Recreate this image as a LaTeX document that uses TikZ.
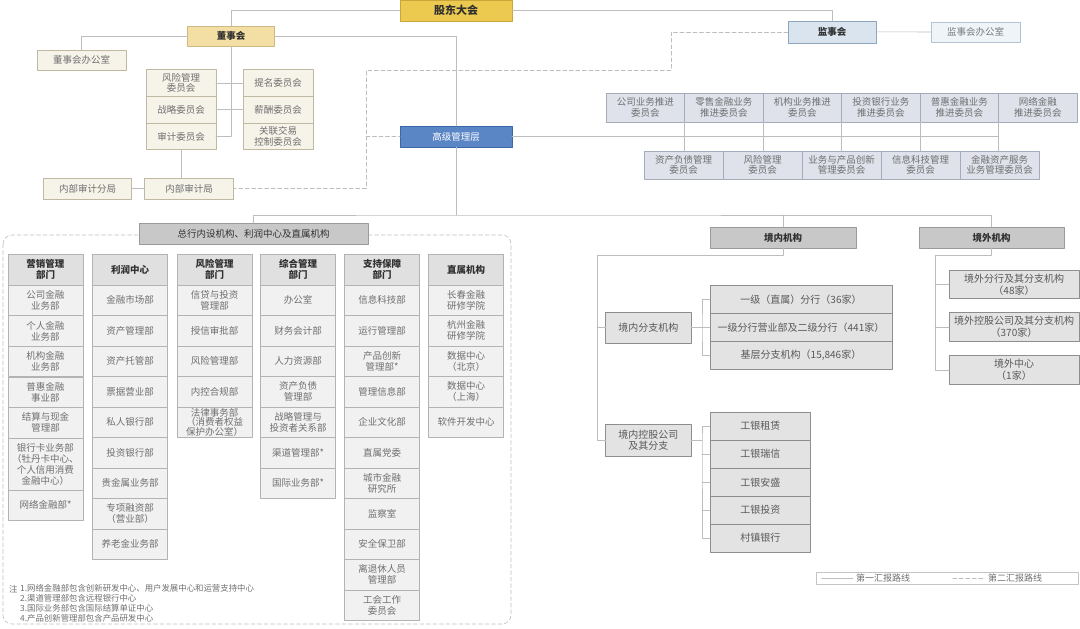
\documentclass[tikz,border=0pt]{standalone}
\usepackage{fontspec}
\setmainfont{Noto Sans CJK SC}
\definecolor{LineGray}{HTML}{BDBDBD}
\definecolor{TextGray}{HTML}{6F6F6F}
\definecolor{HeadText}{HTML}{303030}
\definecolor{GoldFill}{HTML}{ECC94F}
\definecolor{GoldEdge}{HTML}{C9A53A}
\definecolor{BoardFill}{HTML}{F3DFA3}
\definecolor{BoardEdge}{HTML}{CDB982}
\definecolor{CreamFill}{HTML}{F6F3E9}
\definecolor{CreamEdge}{HTML}{BFB8A3}
\definecolor{SupFill}{HTML}{D9E4EF}
\definecolor{SupEdge}{HTML}{8EA5BD}
\definecolor{SupOfficeFill}{HTML}{EFF4F9}
\definecolor{SupOfficeEdge}{HTML}{B3C3D4}
\definecolor{MgmtBlue}{HTML}{5A86C6}
\definecolor{MgmtEdge}{HTML}{3C67A6}
\definecolor{CmtFill}{HTML}{DFE2EB}
\definecolor{CmtEdge}{HTML}{A4ABBB}
\definecolor{HeadGray}{HTML}{C8C8C8}
\definecolor{HeadGrayEdge}{HTML}{9A9A9A}
\definecolor{BoxGray}{HTML}{E3E3E3}
\definecolor{BoxGrayEdge}{HTML}{8E8E8E}
\definecolor{ColHeadFill}{HTML}{E0E0E0}
\definecolor{CellFill}{HTML}{F1F1F1}
\definecolor{CellEdge}{HTML}{B3B3B3}
\definecolor{LegendEdge}{HTML}{C4C4C4}

\begin{document}
\begin{tikzpicture}[x=1pt,y=-1pt, line cap=round, line join=round,
  font=\fontsize{9.5}{11}\selectfont,
  line/.style={draw=LineGray, line width=0.6pt},
  dashline/.style={draw=LineGray, line width=0.6pt, dash pattern=on 4pt off 2.5pt},
  box/.style={align=center, inner sep=1pt, outer sep=0pt, line width=0.6pt, text=TextGray},
  goldbox/.style={box, fill=GoldFill, draw=GoldEdge, text=HeadText, font=\fontsize{11}{12}\selectfont\bfseries},
  boardbox/.style={box, fill=BoardFill, draw=BoardEdge, text=HeadText, font=\fontsize{9.5}{11}\selectfont\bfseries},
  creambox/.style={box, fill=CreamFill, draw=CreamEdge},
  boardcmt/.style={creambox, minimum width=70, minimum height=26.7, font=\fontsize{9.5}{10.5}\selectfont},
  supbox/.style={box, fill=SupFill, draw=SupEdge, text=HeadText, font=\fontsize{9.5}{11}\selectfont\bfseries},
  supoffice/.style={box, fill=SupOfficeFill, draw=SupOfficeEdge, text=TextGray!80!SupEdge},
  mgmtbox/.style={box, fill=MgmtBlue, draw=MgmtEdge, text=white},
  cmtbox/.style={box, fill=CmtFill, draw=CmtEdge, font=\fontsize{9.5}{10.5}\selectfont},
  grayhead/.style={box, fill=HeadGray, draw=HeadGrayEdge, text=HeadText, minimum height=21},
  graybox/.style={box, fill=BoxGray, draw=BoxGrayEdge, text=TextGray!80!black, font=\fontsize{10}{11.5}\selectfont},
  colhead/.style={box, fill=ColHeadFill, draw=CellEdge, text=HeadText, font=\fontsize{9.5}{11}\selectfont\bfseries, minimum width=75, minimum height=31},
  cell/.style={box, fill=CellFill, draw=CellEdge, minimum width=75, minimum height=30.5},
  notetext/.style={inner sep=1pt, text=TextGray, font=\fontsize{8.4}{10}\selectfont},
  legendtext/.style={inner sep=3pt, text=TextGray, font=\fontsize{9}{10}\selectfont}]

\useasboundingbox (0,0) rectangle (1080,629);

% shareholders, boards
\node[goldbox, minimum width=112, minimum height=21] (gdh) at (456,10.5) {股东大会};
\node[boardbox, minimum width=87, minimum height=20.5] (dsh) at (231,36.2) {董事会};
\node[creambox, minimum width=89, minimum height=20.5] (dshOffice) at (81.5,60.3) {董事会办公室};
\node[supbox, minimum width=88, minimum height=22] (jsh) at (832,31.8) {监事会};
\node[supoffice, minimum width=89, minimum height=20] (jshOffice) at (975.5,32) {监事会办公室};

% board committees
\node[boardcmt] (riskCmt) at (181,83) {风险管理\\委员会};
\node[boardcmt] (stratCmt) at (181,109.7) {战略委员会};
\node[boardcmt] (auditCmt) at (181,136.4) {审计委员会};
\node[boardcmt] (nomCmt) at (278.2,83) {提名委员会};
\node[boardcmt] (payCmt) at (278.2,109.7) {薪酬委员会};
\node[boardcmt] (relCmt) at (278.2,136.4) {关联交易\\控制委员会};

% internal audit
\node[creambox, minimum width=89, minimum height=21] (auditBureau) at (189,188.5) {内部审计局};
\node[creambox, minimum width=88, minimum height=21] (auditBranch) at (87.6,188.5) {内部审计分局};

% senior management
\node[mgmtbox, minimum width=112, minimum height=21] (mgmt) at (456,136.5) {高级管理层};

% management committees, two rows
\node[cmtbox, minimum width=78.5, minimum height=29] (cmA1) at (645.25,107.5) {公司业务推进\\委员会};
\node[cmtbox, minimum width=78.5, minimum height=29] (cmA2) at (723.75,107.5) {零售金融业务\\推进委员会};
\node[cmtbox, minimum width=78.5, minimum height=29] (cmA3) at (802.25,107.5) {机构业务推进\\委员会};
\node[cmtbox, minimum width=78.5, minimum height=29] (cmA4) at (880.75,107.5) {投资银行业务\\推进委员会};
\node[cmtbox, minimum width=78.5, minimum height=29] (cmA5) at (959.25,107.5) {普惠金融业务\\推进委员会};
\node[cmtbox, minimum width=78.5, minimum height=29] (cmA6) at (1037.75,107.5) {网络金融\\推进委员会};
\node[cmtbox, minimum width=79, minimum height=28] (cmB1) at (683.5,165) {资产负债管理\\委员会};
\node[cmtbox, minimum width=79, minimum height=28] (cmB2) at (762.5,165) {风险管理\\委员会};
\node[cmtbox, minimum width=79, minimum height=28] (cmB3) at (841.5,165) {业务与产品创新\\管理委员会};
\node[cmtbox, minimum width=79, minimum height=28] (cmB4) at (920.5,165) {信息科技管理\\委员会};
\node[cmtbox, minimum width=79, minimum height=28] (cmB5) at (999.5,165) {金融资产服务\\业务管理委员会};

% head office frame
\draw[dashline, rounded corners=9pt] (3,235) rectangle (511,624);
\node[grayhead, minimum width=229] (zhHead) at (253.5,233.5) {总行内设机构、利润中心及直属机构};

% column 1
\node[colhead] (yxHead) at (45.5,269.5) {营销管理\\部门};
\node[cell] (yx1) at (45.5,300.3) {公司金融\\业务部};
\node[cell] (yx2) at (45.5,330.9) {个人金融\\业务部};
\node[cell] (yx3) at (45.5,361.5) {机构金融\\业务部};
\node[cell] (yx4) at (45.5,392.1) {普惠金融\\事业部};
\node[cell] (yx5) at (45.5,422.7) {结算与现金\\管理部};
\node[cell, minimum height=52] (yx6) at (45.5,464) {银行卡业务部\\（牡丹卡中心、\\个人信用消费\\金融中心）};
\node[cell, minimum height=30] (yx7) at (45.5,505) {网络金融部*};

% column 2
\node[colhead] (lrHead) at (130,269.5) {利润中心};
\node[cell] (lr1) at (130,300.25) {金融市场部};
\node[cell] (lr2) at (130,330.75) {资产管理部};
\node[cell] (lr3) at (130,361.25) {资产托管部};
\node[cell] (lr4) at (130,391.75) {票据营业部};
\node[cell] (lr5) at (130,422.25) {私人银行部};
\node[cell] (lr6) at (130,452.75) {投资银行部};
\node[cell] (lr7) at (130,483.25) {贵金属业务部};
\node[cell] (lr8) at (130,513.75) {专项融资部\\（营业部）};
\node[cell] (lr9) at (130,544.25) {养老金业务部};

% column 3
\node[colhead] (fxHead) at (214.5,269.5) {风险管理\\部门};
\node[cell] (fx1) at (214.5,300.25) {信贷与投资\\管理部};
\node[cell] (fx2) at (214.5,330.75) {授信审批部};
\node[cell] (fx3) at (214.5,361.25) {风险管理部};
\node[cell] (fx4) at (214.5,391.75) {内控合规部};
\node[cell, inner sep=0pt, font=\fontsize{9.5}{9.8}\selectfont] (fx5) at (214.5,422.25) {法律事务部\\（消费者权益\\保护办公室）};

% column 4
\node[colhead] (zhgHead) at (298.2,269.5) {综合管理\\部门};
\node[cell] (zhg1) at (298.2,300.25) {办公室};
\node[cell] (zhg2) at (298.2,330.75) {财务会计部};
\node[cell] (zhg3) at (298.2,361.25) {人力资源部};
\node[cell] (zhg4) at (298.2,391.75) {资产负债\\管理部};
\node[cell] (zhg5) at (298.2,422.25) {战略管理与\\投资者关系部};
\node[cell] (zhg6) at (298.2,452.75) {渠道管理部*};
\node[cell] (zhg7) at (298.2,483.25) {国际业务部*};

% column 5
\node[colhead] (zcHead) at (382,269.5) {支持保障\\部门};
\node[cell] (zc1) at (382,300.25) {信息科技部};
\node[cell] (zc2) at (382,330.75) {运行管理部};
\node[cell] (zc3) at (382,361.25) {产品创新\\管理部*};
\node[cell] (zc4) at (382,391.75) {管理信息部};
\node[cell] (zc5) at (382,422.25) {企业文化部};
\node[cell] (zc6) at (382,452.75) {直属党委};
\node[cell] (zc7) at (382,483.25) {城市金融\\研究所};
\node[cell] (zc8) at (382,513.75) {监察室};
\node[cell] (zc9) at (382,544.25) {安全保卫部};
\node[cell] (zc10) at (382,574.75) {离退休人员\\管理部};
\node[cell] (zc11) at (382,605.25) {工会工作\\委员会};

% column 6
\node[colhead] (zsHead) at (466,269.5) {直属机构};
\node[cell] (zs1) at (466,300.25) {长春金融\\研修学院};
\node[cell] (zs2) at (466,330.75) {杭州金融\\研修学院};
\node[cell] (zs3) at (466,361.25) {数据中心\\（北京）};
\node[cell] (zs4) at (466,391.75) {数据中心\\（上海）};
\node[cell] (zs5) at (466,422.25) {软件开发中心};

% notes
\node[notetext, anchor=west] (noteMark) at (8,589) {注};
\node[notetext, anchor=north west, align=left] (noteBody) at (19,583.5)
{1.网络金融部包含创新研发中心、用户发展中心和运营支持中心\\2.渠道管理部包含远程银行中心\\3.国际业务部包含国际结算单证中心\\4.产品创新管理部包含产品研发中心};

% domestic
\node[grayhead, minimum width=146, font=\fontsize{9.5}{11}\selectfont\bfseries] (jnjg) at (783,237.5) {境内机构};
\node[graybox, minimum width=85.3, minimum height=31] (jnFz) at (648.3,327.3) {境内分支机构};
\node[graybox, minimum width=85.3, minimum height=32] (jnKg) at (648.3,440) {境内控股公司\\及其分支};
\node[graybox, minimum width=182, minimum height=27.8] (fz1) at (801,299.5) {一级（直属）分行（36家）};
\node[graybox, minimum width=182, minimum height=27.8] (fz2) at (801,327.3) {一级分行营业部及二级分行（441家）};
\node[graybox, minimum width=182, minimum height=27.8] (fz3) at (801,355.1) {基层分支机构（15,846家）};
\node[graybox, minimum width=100.7, minimum height=28] (kg1) at (760.3,426.2) {工银租赁};
\node[graybox, minimum width=100.7, minimum height=28] (kg2) at (760.3,454.2) {工银瑞信};
\node[graybox, minimum width=100.7, minimum height=28] (kg3) at (760.3,482.2) {工银安盛};
\node[graybox, minimum width=100.7, minimum height=28] (kg4) at (760.3,510.2) {工银投资};
\node[graybox, minimum width=100.7, minimum height=28] (kg5) at (760.3,538.2) {村镇银行};

% overseas
\node[grayhead, minimum width=145, font=\fontsize{9.5}{11}\selectfont\bfseries] (jwjg) at (991.5,237.5) {境外机构};
\node[graybox, minimum width=130, minimum height=27.6] (jw1) at (1014,284.5) {境外分行及其分支机构\\（48家）};
\node[graybox, minimum width=130, minimum height=28.3] (jw2) at (1014,326.8) {境外控股公司及其分支机构\\（370家）};
\node[graybox, minimum width=130, minimum height=28.3] (jw3) at (1014,369.8) {境外中心\\（1家）};

% legend
\node[draw=LegendEdge, line width=0.6pt, minimum width=262, minimum height=12, inner sep=0pt] (legend) at (947,578) {};
\draw[line] ([xshift=6]legend.west) -- ++(31,0) node[right, legendtext] (legendA) {第一汇报路线};
\draw[dashline] ([xshift=137]legend.west) -- ++(32,0) node[right, legendtext] (legendB) {第二汇报路线};

% first reporting lines
\draw[line] (gdh.west) -| (dsh.north);
\draw[line] (gdh.east) -| (jsh.north);
\draw[line] (jsh.east) -- (jshOffice.west);
\draw[line] (dsh.west) -| (dshOffice.north);
\draw[line] (dsh.east) -| (mgmt.north);
\draw[line] (dsh.south) -- (dsh.south |- auditCmt.east);
\draw[line] (riskCmt.east) -- (nomCmt.west);
\draw[line] (stratCmt.east) -- (payCmt.west);
\draw[line] (auditCmt.east) -- (auditCmt.east -| dsh.south);
\draw[line] (auditCmt.south) -- (auditCmt.south |- auditBureau.north);
\draw[line] (auditBranch.east) -- (auditBureau.west);

\draw[line] (mgmt.east) -- (mgmt.east -| cmA5.south east);
\draw[line] (cmA1.south east) -- (cmA1.south east |- cmB1.north);
\draw[line] (cmA2.south east) -- (cmA2.south east |- cmB1.north);
\draw[line] (cmA3.south east) -- (cmA3.south east |- cmB1.north);
\draw[line] (cmA4.south east) -- (cmA4.south east |- cmB1.north);
\draw[line] (cmA5.south east) -- (cmA5.south east |- cmB1.north);

\coordinate (hub) at (456,215);
\draw[line] (mgmt.south) -- (hub);
\draw[line] (zhHead.north) |- (hub) -| (jwjg.north);
\draw[line] (jnjg.north) -- (jnjg.north |- hub);

\coordinate (jnBus) at (597,255);
\draw[line] (jnjg.south) |- (jnBus) |- (jnKg.west);
\draw[line] (jnBus |- jnFz.west) -- (jnFz.west);
\coordinate (fzBus) at (702,327.3);
\draw[line] (jnFz.east) -- (fzBus);
\draw[line] (fz1.west) -| (fzBus) |- (fz3.west);
\draw[line] (fzBus) -- (fz2.west);
\coordinate (kgBus) at (702,440);
\draw[line] (jnKg.east) -- (kgBus);
\draw[line] (kg1.west) -| (kgBus) |- (kg5.west);
\draw[line] (kg2.west) -- (kg2.west -| kgBus);
\draw[line] (kg3.west) -- (kg3.west -| kgBus);
\draw[line] (kg4.west) -- (kg4.west -| kgBus);

\coordinate (jwBus) at (935,255);
\draw[line] (jwjg.south) |- (jwBus) |- (jw3.west);
\draw[line] (jw1.west) -- (jw1.west -| jwBus);
\draw[line] (jw2.west) -- (jw2.west -| jwBus);

% second reporting lines
\coordinate (dashA) at (671,70.6);
\coordinate (dashB) at (366,70.6);
\draw[dashline] (jsh.west) -| (dashA) -- (dashB) |- (auditBureau.east);
\draw[dashline] (dashB |- mgmt.west) -- (mgmt.west);

\end{tikzpicture}
\end{document}
